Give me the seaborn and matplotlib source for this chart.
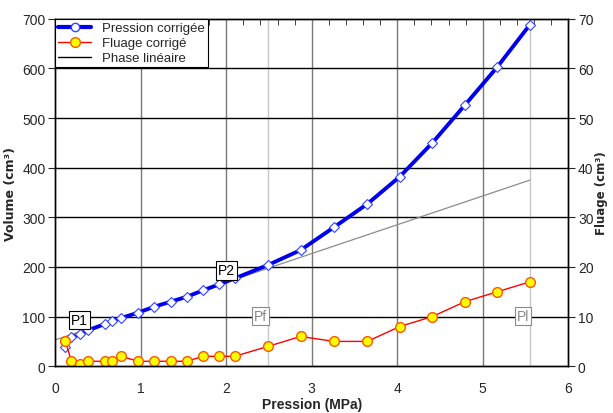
import numpy as np
import pandas as pd
import seaborn as sns
import matplotlib.pyplot as plt
from matplotlib import font_manager
from matplotlib.lines import Line2D
from matplotlib.ticker import MultipleLocator

# Données
pression = [0.12, 0.19, 0.29, 0.38, 0.58, 0.67, 0.77, 0.97, 1.16, 1.35, 1.54,
            1.73, 1.92, 2.10, 2.49, 2.87, 3.26, 3.65, 4.03, 4.41, 4.79, 5.17, 5.55]
volume = [39, 58, 64, 72, 85, 91, 97, 108, 120, 130, 140,
          153, 165, 177, 204, 234, 280, 327, 382, 450, 526, 603, 688]
fluage = [5, 1, 0.4, 1, 1, 1, 2, 1, 1, 1, 1,
          2, 2, 2, 4, 6, 5, 5, 8, 10, 13, 15, 17]
lin_x = [0.0, 5.55]
lin_y = [53, 375]

# repères (pression, volume, texte)
reperes = [(0.28, 93, "P1"), (2.0, 193, "P2"), (2.4, 101, "Pf"), (5.47, 101, "Pl")]

df = pd.DataFrame({"pression": pression, "volume": volume, "fluage": fluage})
df_lin = pd.DataFrame({"pression": lin_x, "volume": lin_y})

sns.set_style("white")
installed = {f.name for f in font_manager.fontManager.ttflist}
narrow = "Liberation Sans Narrow" if "Liberation Sans Narrow" in installed else "Liberation Sans"
plt.rcParams['font.family'] = [narrow, 'DejaVu Sans']

fig, ax = plt.subplots(figsize=(6.13, 4.14), dpi=100)
fig.subplots_adjust(left=0.09, right=0.927, bottom=0.113, top=0.952)

# grille
for xv in [1, 2, 3, 4, 5]:
    ax.axvline(xv, color="#7a7a7a", lw=1, zorder=0)
for xv in [2.49, 5.55]:
    ax.axvline(xv, color="#c8c8c8", lw=1, zorder=0)
for yv in range(100, 700, 100):
    ax.axhline(yv, color="black", lw=1, zorder=0)

sns.lineplot(data=df_lin, x="pression", y="volume", ax=ax, color="#8c8c8c",
             lw=0.9, zorder=2)
sns.lineplot(data=df, x="pression", y="volume", ax=ax, color="#0000ee", lw=2.8,
             sort=False, zorder=3)
ax.plot(df["pression"], df["volume"], ls="none", marker="D", ms=5.5,
        mfc="white", mec="#3344ff", mew=0.8, zorder=4)

ax2 = ax.twinx()
sns.lineplot(data=df, x="pression", y="fluage", ax=ax2, color="red", lw=1,
             marker="o", ms=7, mfc="yellow", mec="#ff5500", mew=1, sort=False)

ax.set_xlim(0, 6)
ax.set_ylim(0, 700)
ax2.set_ylim(0, 70)
ax.xaxis.set_major_locator(MultipleLocator(1))
ax.xaxis.set_minor_locator(MultipleLocator(0.2))
ax.yaxis.set_major_locator(MultipleLocator(100))
ax2.yaxis.set_major_locator(MultipleLocator(10))
ax.tick_params(axis="x", which="major", direction="out", length=5, labelsize=10, pad=6)
ax.tick_params(axis="x", which="minor", direction="in", length=4, top=True)
ax.tick_params(axis="y", direction="out", length=5, labelsize=10, pad=2)
ax2.tick_params(axis="y", direction="out", length=5, labelsize=10, pad=2)

ax.set_xlabel("Pression (MPa)", fontsize=10, fontweight="bold", labelpad=1)
ax.set_ylabel("Volume (cm³)", fontsize=9, fontweight="bold", family="DejaVu Sans",
              labelpad=4)
ax2.set_ylabel("Fluage (cm³)", fontsize=8.5, fontweight="bold", family="DejaVu Sans",
               rotation=90, labelpad=1)

for s in list(ax.spines.values()) + list(ax2.spines.values()):
    s.set_color("black")
    s.set_linewidth(1)

for px, vol, txt in reperes:
    col = "black" if txt in ("P1", "P2") else "#8a8a8a"
    ax.text(px, vol, txt, fontsize=10, color=col, ha="center", va="center", zorder=6,
            bbox=dict(boxstyle="square,pad=0.15", fc="white", ec=col, lw=0.8))

handles = [
    Line2D([], [], color="#0000ee", lw=3, marker="o", ms=6, mfc="white", mec="#3344ff"),
    Line2D([], [], color="red", lw=1, marker="o", ms=7, mfc="yellow", mec="#ff5500"),
    Line2D([], [], color="black", lw=1),
]
leg = ax2.legend(handles, ["Pression corrigée", "Fluage corrigé", "Phase linéaire"],
                 loc="upper left", bbox_to_anchor=(0, 1), fontsize=9.5,
                 frameon=True, fancybox=False, borderaxespad=0, handlelength=2.5,
                 borderpad=0.25, labelspacing=0.2)
leg.get_frame().set_edgecolor("black")
leg.get_frame().set_linewidth(0.8)
leg.get_frame().set_alpha(1)

plt.savefig("out.png", dpi=100)
